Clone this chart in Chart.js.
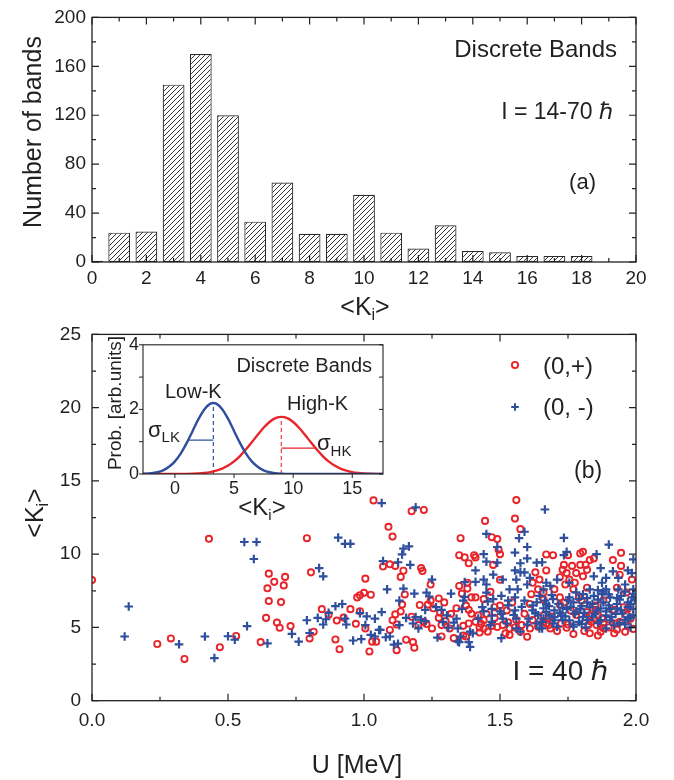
<!DOCTYPE html>
<html>
<head>
<meta charset="utf-8">
<script src="https://cdn.jsdelivr.net/npm/chart.js@4.4.0/dist/chart.umd.min.js"></script>
<style>
  html, body { margin: 0; padding: 0; background: #fff; }
  #wrap { position: relative; width: 674px; height: 780px; overflow: hidden; background: #fff; }
  canvas { position: absolute; }
</style>
</head>
<body>
<div id="wrap">
  <canvas id="hist" width="674" height="330" style="left:0;top:0"></canvas>
  <canvas id="scatter" width="674" height="468" style="left:0;top:312px"></canvas>
  <canvas id="inset" width="300" height="200" style="left:100px;top:330px"></canvas>
</div>
<script>
const INK = '#231f20';
const RED = '#e8252a';
const BLUE = '#2f4f9e';
const FONT = '"Liberation Sans", Arial, Helvetica, sans-serif';

// (a) number of discrete bands per <K_i> bin
const K_BINS = [0, 1, 2, 3, 4, 5, 6, 7, 8, 9, 10, 11, 12, 13, 14, 15, 16, 17, 18];
const BAND_COUNTS = [1, 24, 25, 145, 170, 120, 33, 65, 23, 23, 55, 24, 11, 30, 9, 8, 5, 5, 5];
const HIST_X_TICKS = [0, 2, 4, 6, 8, 10, 12, 14, 16, 18, 20];
const HIST_X_MINOR = [1, 3, 5, 7, 9, 11, 13, 15, 17, 19];
const HIST_Y_TICKS = [0, 40, 80, 120, 160, 200];
const HIST_Y_MINOR = [20, 60, 100, 140, 180];

// (b) <K_i> versus excitation energy U for the two (parity, signature) groups, [U, <K_i>]
const POS_PARITY = [
  [0.00,8.23],[0.43,11.05],[0.24,3.87],[0.29,4.25],[0.34,2.85],[0.47,3.65],[0.53,4.42],[0.62,4.00],[0.64,5.65],[0.65,8.67],
  [0.645,7.67],[0.67,8.11],[0.65,6.80],[0.71,8.45],[0.705,7.87],[0.695,6.73],[0.68,5.33],[0.69,4.98],[0.73,5.09],[0.79,11.09],
  [0.805,8.76],[0.80,4.25],[0.815,4.71],[0.845,6.25],[0.87,5.87],[0.90,5.47],[0.895,4.18],[0.91,3.51],[0.925,5.67],[0.95,6.25],
  [0.97,5.25],[0.985,6.11],[0.975,7.05],[0.985,7.20],[1.00,7.36],[1.005,8.33],[1.025,7.23],[1.005,4.93],[1.02,3.36],[1.03,4.03],
  [1.045,4.03],[1.035,13.67],
  [1.175,12.93],[1.22,13.02],[1.09,11.87],[1.105,11.20],[1.07,9.16],[1.095,9.31],[1.115,9.20],[1.145,8.87],[1.135,8.45],[1.21,9.05],
  [1.215,8.85],[1.245,7.93],[1.15,7.25],[1.14,6.56],[1.115,5.89],[1.135,6.09],[1.105,5.49],[1.095,4.83],[1.12,5.20],[1.175,5.73],
  [1.205,6.53],[1.235,6.56],[1.245,6.83],[1.275,6.98],[1.295,6.71],[1.255,6.31],[1.28,6.00],[1.34,6.31],[1.35,7.83],[1.35,9.93],
  [1.355,11.09],[1.22,5.38],[1.20,5.16],[1.23,5.23],[1.25,4.93],[1.275,5.65],[1.285,5.16],[1.30,5.43],[1.315,4.93],[1.32,5.93],
  [1.285,4.38],[1.155,4.16],[1.18,4.00],[1.185,3.62],[1.12,3.45],
  [1.56,13.69],[1.555,12.43],[1.445,12.27],[1.575,11.71],[1.47,11.16],[1.49,11.03],[1.495,10.31],[1.50,10.00],[1.37,9.78],[1.385,9.38],
  [1.405,9.93],[1.41,9.78],[1.475,9.27],[1.67,9.98],[1.67,8.89],[1.63,8.76],[1.50,8.25],[1.38,8.05],[1.36,7.31],[1.38,7.65],
  [1.465,7.43],[1.41,7.05],[1.395,7.05],[1.44,6.93],[1.375,6.49],[1.385,6.20],[1.395,5.93],[1.42,5.83],[1.45,5.93],[1.48,6.38],
  [1.48,5.65],[1.44,5.49],[1.41,5.38],[1.385,5.27],[1.365,5.11],[1.425,5.00],[1.44,4.93],[1.455,4.71],[1.425,4.65],[1.49,5.03],
  [1.51,5.16],[1.535,4.93],[1.535,4.49],[1.52,4.60],[1.555,5.00],[1.58,5.16],[1.61,4.93],[1.60,4.36],[1.575,4.71],[1.62,8.05],
  [1.645,8.27],[1.64,7.60],[1.615,7.27],[1.66,7.38],[1.61,6.60],[1.50,6.49],[1.525,6.16],[1.545,6.71],[1.59,5.93],[1.33,4.27],
  [1.365,4.45],[1.375,4.38],[1.67,5.27],[1.68,5.65],
  [1.695,9.93],[1.75,9.93],[1.795,10.05],[1.805,10.16],[1.945,10.09],[1.915,9.60],[1.735,9.27],[1.765,9.20],[1.795,9.27],[1.815,9.27],
  [1.83,9.60],[1.845,9.71],[1.73,8.93],[1.745,8.71],[1.78,8.71],[1.82,8.93],[1.945,9.20],[1.72,8.43],[1.755,8.27],[1.805,8.49],
  [1.94,8.60],[1.74,7.93],[1.775,8.05],[1.77,7.60],[1.82,7.71],[1.70,7.60],[1.72,7.05],[1.79,7.05],[1.735,6.71],[1.93,7.71],
  [1.965,7.38],[1.985,8.27],[1.955,6.38],[1.66,5.83],[1.68,5.16],[1.685,4.93],[1.82,6.05],[1.83,5.83],[1.845,5.60],[1.86,5.83],
  [1.835,5.38],[1.825,5.16],[1.855,5.16],[1.88,5.27],[1.875,5.60],[1.94,5.38],[1.965,5.83],[1.98,5.60],[1.66,5.38],[1.725,5.27],
  [1.745,4.98],[1.925,5.27],[1.97,6.27],[1.85,6.49],[1.80,6.83],
  [1.81,4.75],[1.87,4.70],[1.93,4.85],[1.99,4.90],[1.77,4.55],[1.86,4.45],[1.90,5.00],
  [1.62,5.50],[1.64,5.05],[1.69,5.75],[1.71,4.75],[1.75,5.20],[1.78,5.85],[1.83,4.60],[1.88,4.95],[1.92,4.60],[1.96,4.70],
  [1.97,5.10],[1.90,5.55],[1.85,6.20],[1.88,6.85],[1.92,6.20],[1.76,6.15],[1.72,6.55],[1.66,6.90],[1.56,5.50],[1.53,5.35],
  [1.47,5.10],[1.43,5.25]
];
const NEG_PARITY = [
  [0.12,4.38],[0.135,6.43],[0.32,3.85],[0.415,4.38],[0.45,2.91],[0.50,4.40],[0.525,4.16],[0.57,5.09],[0.56,10.83],[0.605,10.83],
  [0.595,9.67],[0.645,3.91],[0.735,4.56],[0.76,4.03],[0.79,5.49],[0.80,4.62],[0.83,5.65],[0.85,5.20],[0.86,5.56],[0.835,9.05],
  [0.85,8.49],[0.87,6.00],[0.895,6.45],[0.905,11.13],[0.93,10.71],[0.95,10.71],[0.92,6.60],[0.93,5.60],[0.935,5.20],[0.96,4.11],
  [0.99,4.20],[0.985,5.98],[1.01,5.76],[1.005,5.16],[1.04,5.60],[1.025,4.49],[1.04,4.38],[1.055,4.83],[1.065,13.49],
  [1.19,13.20],[1.165,10.53],[1.145,10.38],[1.14,9.98],[1.07,9.53],[1.125,9.45],[1.17,9.27],[1.25,8.27],[1.085,7.60],[1.145,7.65],
  [1.185,7.31],[1.23,7.38],[1.24,7.11],[1.32,7.31],[1.13,6.83],[1.225,6.20],[1.265,6.38],[1.285,6.20],[1.305,5.83],[1.065,6.05],
  [1.155,5.65],[1.19,5.71],[1.21,5.53],[1.18,5.27],[1.13,5.16],[1.06,4.83],[1.08,4.33],[1.095,4.38],[1.11,3.83],[1.125,3.89],
  [1.27,4.31],[1.31,4.98],[1.33,5.33],[1.34,5.60],[1.345,4.05],[1.20,4.93],[1.225,5.43],[1.29,5.38],
  [1.665,13.05],[1.59,11.53],[1.57,11.09],[1.45,11.38],[1.49,10.49],[1.60,10.49],[1.555,10.11],[1.44,10.00],[1.45,9.49],[1.49,9.42],
  [1.575,9.38],[1.60,9.71],[1.635,9.42],[1.655,9.45],[1.41,8.89],[1.475,8.60],[1.555,8.89],[1.575,8.76],[1.59,8.76],[1.51,8.27],
  [1.56,8.27],[1.61,8.38],[1.67,8.05],[1.37,8.09],[1.41,8.11],[1.44,8.27],[1.45,7.93],[1.60,7.93],[1.535,7.60],[1.565,7.60],
  [1.37,7.09],[1.45,7.38],[1.505,7.16],[1.555,7.05],[1.645,7.16],[1.365,6.83],[1.455,6.78],[1.475,6.93],[1.53,6.83],[1.59,6.83],
  [1.635,6.71],[1.665,6.83],[1.36,6.27],[1.435,6.38],[1.47,6.27],[1.505,5.93],[1.555,6.16],[1.62,6.16],[1.66,6.31],[1.47,5.38],
  [1.51,5.60],[1.56,5.60],[1.605,5.60],[1.64,5.83],[1.67,6.05],[1.525,5.27],[1.635,5.27],[1.345,4.93],[1.39,4.71],[1.465,5.16],
  [1.56,4.93],[1.645,4.93],[1.355,4.38],[1.40,4.60],[1.505,4.27],[1.35,4.00],[1.385,4.00],[1.39,3.67],[1.575,4.71],
  [1.735,11.11],[1.90,10.65],[1.745,10.16],[1.735,9.93],[1.855,10.00],[1.99,9.65],[1.87,9.05],[1.915,8.83],[1.97,8.89],[1.71,8.27],
  [1.845,8.49],[1.89,8.38],[1.935,8.38],[1.985,8.71],[1.685,7.83],[1.755,8.05],[1.875,8.05],[1.96,7.93],[1.66,7.60],[1.83,7.60],
  [1.89,7.60],[1.935,7.60],[1.99,7.60],[1.805,7.27],[1.845,7.16],[1.875,7.27],[1.905,7.05],[1.945,7.16],[1.985,7.05],[1.695,6.93],
  [1.755,7.05],[1.67,6.60],[1.715,6.60],[1.77,6.71],[1.82,6.71],[1.88,6.71],[1.93,6.60],[1.97,6.71],[1.70,6.16],[1.745,6.27],
  [1.795,6.27],[1.855,6.16],[1.905,6.27],[1.945,6.16],[1.99,6.27],[1.68,5.83],[1.725,5.83],[1.775,5.93],[1.805,5.71],[1.89,5.83],
  [1.925,5.93],[1.99,5.83],[1.655,5.38],[1.70,5.49],[1.755,5.49],[1.79,5.38],[1.905,5.49],[1.96,5.49],[1.655,4.93],[1.71,5.05],
  [1.77,5.05],[1.815,5.00],[1.89,4.93],[1.98,5.00],[1.695,5.27],
  [1.83,6.40],[1.86,6.90],[1.90,6.50],[1.94,6.90],[1.97,6.40],[1.99,7.30],[1.96,5.20],[1.85,5.90],[1.82,5.50],[1.88,7.45],
  [1.79,6.95],[1.76,6.40],[1.72,6.00],[1.69,7.20],[1.80,5.25],[1.92,5.15],[1.995,6.90],
  [1.74,5.75],[1.78,6.10],[1.81,6.00],[1.84,5.75],[1.87,5.50],[1.89,6.10],[1.91,5.70],[1.93,6.30],[1.95,5.95],[1.97,5.60],
  [1.98,6.60],[1.75,6.85],[1.78,7.40],[1.82,7.00],[1.86,7.55],[1.90,7.25],[1.93,7.00],[1.96,7.45],[1.87,6.30],[1.84,6.60],
  [1.80,6.45],[1.73,6.35],[1.70,5.70],[1.66,5.60],[1.63,6.00],[1.58,6.40],[1.53,6.50],[1.50,6.10],[1.47,5.80],[1.44,6.10],
  [1.42,5.60],[1.55,5.85],[1.60,5.20],[1.62,6.50],[1.68,6.45],[1.86,5.30],[1.94,5.30],[1.98,5.70],[1.77,5.20],[1.73,5.50]
];
const SC_X_TICKS = [0, 0.5, 1.0, 1.5, 2.0];
const SC_X_MINOR = [0.25, 0.75, 1.25, 1.75];
const SC_Y_TICKS = [0, 5, 10, 15, 20, 25];
const SC_Y_MINOR = [2.5, 7.5, 12.5, 17.5, 22.5];

// inset: probability profiles of the low-K and high-K groups
const LOWK_K = [-2.7,-2.5,-2,-1.5,-1,-0.5,0,0.5,1,1.5,2,2.5,3,3.25,3.5,4,4.5,5,5.5,6,6.5,7,7.5,8,8.5,9,9.5,10,11,12,13,14,15,16,17,17.6];
const LOWK_P = [0.007,0.010,0.024,0.055,0.115,0.222,0.392,0.640,0.963,1.334,1.705,2.007,2.178,2.2,2.178,2.007,1.705,1.334,0.963,0.640,
                0.392,0.222,0.115,0.055,0.024,0.010,0.004,0.001,0,0,0,0,0,0,0,0];
const HIGHK_K = [-2.7,-1,0,1,2,2.5,3,3.5,4,4.5,5,5.5,6,6.5,7,7.5,8,8.5,9,9.5,10,10.5,11,11.5,12,12.5,13,13.5,14,14.5,15,15.5,16,16.5,17,17.6];
const HIGHK_P = [0,0,0.001,0.004,0.017,0.033,0.059,0.102,0.167,0.261,0.390,0.556,0.756,0.980,1.213,1.431,1.610,1.729,1.77,1.729,
                 1.610,1.431,1.213,0.980,0.756,0.556,0.390,0.261,0.167,0.102,0.059,0.033,0.017,0.009,0.004,0.002];
const LOWK_MEAN = 3.25, LOWK_PEAK = 2.2, LOWK_SIGMA_FROM = 1.12, LOWK_SIGMA_LEVEL = 1.05;
const HIGHK_MEAN = 9.0, HIGHK_PEAK = 1.77, HIGHK_SIGMA_TO = 11.9, HIGHK_SIGMA_LEVEL = 0.8;
const INSET_X_TICKS = [0, 5, 10, 15];
const INSET_Y_TICKS = [0, 2, 4];
const INSET_Y_MINOR = [1, 3];

// ---------- helpers ----------
function makeHatch() {
  const n = 5;
  const c = document.createElement('canvas');
  c.width = n; c.height = n;
  const g = c.getContext('2d');
  g.fillStyle = '#fff'; g.fillRect(0, 0, n, n);
  g.strokeStyle = '#2a2a2a'; g.lineWidth = 0.95;
  g.beginPath();
  g.moveTo(0, n); g.lineTo(n, 0);
  g.moveTo(-1, 1); g.lineTo(1, -1);
  g.moveTo(n - 1, n + 1); g.lineTo(n + 1, n - 1);
  g.stroke();
  return g.createPattern(c, 'repeat');
}

function axis(o) {
  return {
    type: 'linear', min: o.min, max: o.max, offset: false,
    grid: { display: false, drawTicks: false }, border: { display: false },
    afterBuildTicks: s => { s.ticks = o.ticks.map(v => ({ value: v })); },
    afterFit: s => { if (o.width != null) s.width = o.width; if (o.height != null) s.height = o.height; },
    ticks: { color: INK, font: { family: FONT, size: o.size }, padding: o.pad, maxRotation: 0, minRotation: 0,
             autoSkip: false, callback: o.fmt || (v => String(v)) }
  };
}

function drawRuns(ctx, runs, x, y, align) {
  let w = 0;
  runs.forEach(r => {
    ctx.font = (r.italic ? 'italic ' : '') + r.size + 'px ' + FONT;
    r._w = ctx.measureText(r.t).width; w += r._w;
  });
  let cx = align === 'center' ? x - w / 2 : align === 'right' ? x - w : x;
  runs.forEach(r => {
    ctx.font = (r.italic ? 'italic ' : '') + r.size + 'px ' + FONT;
    ctx.textAlign = 'left';
    ctx.fillText(r.t, cx, y + (r.dy || 0));
    cx += r._w;
  });
}

// frame box with tick marks on every side
const frameTicks = {
  id: 'frameTicks',
  afterDraw(chart, args, o) {
    const { ctx, chartArea: a } = chart;
    const sx = chart.scales.x, sy = chart.scales.y;
    const s = o.outward ? -1 : 1;
    ctx.save();
    ctx.strokeStyle = INK;
    ctx.lineWidth = o.lineWidth || 1.2;
    ctx.strokeRect(a.left, a.top, a.right - a.left, a.bottom - a.top);
    ctx.lineWidth = o.tickWidth || 1.2;
    ctx.beginPath();
    const xt = (vals, len) => (vals || []).forEach(v => {
      const p = sx.getPixelForValue(v);
      ctx.moveTo(p, a.bottom); ctx.lineTo(p, a.bottom - s * len);
      if (o.mirrorX) { ctx.moveTo(p, a.top); ctx.lineTo(p, a.top + len); }
    });
    const yt = (vals, len) => (vals || []).forEach(v => {
      const p = sy.getPixelForValue(v);
      ctx.moveTo(a.left, p); ctx.lineTo(a.left + s * len, p);
      if (o.mirrorY) { ctx.moveTo(a.right, p); ctx.lineTo(a.right - len, p); }
    });
    xt(o.xMajor, o.major); xt(o.xMinor, o.minor);
    yt(o.yMajor, o.major); yt(o.yMinor, o.minor);
    ctx.stroke();
    ctx.restore();
  }
};

// titles, annotations and legend keys (page coordinates, shifted by the canvas offset)
const textLayer = {
  id: 'textLayer',
  afterDraw(chart, args, o) {
    const ctx = chart.ctx;
    const ox = o.ox || 0, oy = o.oy || 0;
    ctx.save();
    ctx.fillStyle = INK;
    ctx.textBaseline = 'alphabetic';
    (o.items || []).forEach(it => {
      ctx.save();
      ctx.translate(it.x - ox, it.y - oy);
      if (it.rotate) ctx.rotate(-Math.PI / 2);
      drawRuns(ctx, it.runs, 0, 0, it.align || 'left');
      ctx.restore();
    });
    (o.keys || []).forEach(k => {
      const x = k.x - ox, y = k.y - oy;
      ctx.beginPath();
      ctx.strokeStyle = k.color;
      ctx.lineWidth = k.width;
      if (k.style === 'circle') {
        ctx.arc(x, y, k.r, 0, Math.PI * 2);
      } else {
        ctx.moveTo(x - k.r, y); ctx.lineTo(x + k.r, y);
        ctx.moveTo(x, y - k.r); ctx.lineTo(x, y + k.r);
      }
      ctx.stroke();
    });
    ctx.restore();
  }
};

const KI = (size, sub) => [{ t: '<K', size }, { t: 'i', size: sub, dy: 5 }, { t: '>', size }];

// ---------- (a) histogram ----------
new Chart(document.getElementById('hist'), {
  type: 'bar',
  data: {
    datasets: [{
      data: K_BINS.map((k, i) => ({ x: k, y: BAND_COUNTS[i] })),
      backgroundColor: makeHatch(),
      borderColor: '#2a2a2a',
      borderWidth: 1.2,
      borderSkipped: false,
      barPercentage: 0.8,
      categoryPercentage: 1.0
    }]
  },
  options: {
    responsive: false, animation: false, events: [],
    layout: { padding: { left: 0, right: 38, top: 12, bottom: 0 } },
    plugins: {
      legend: { display: false }, tooltip: { enabled: false },
      frameTicks: { xMajor: HIST_X_TICKS, xMinor: HIST_X_MINOR, yMajor: HIST_Y_TICKS, yMinor: HIST_Y_MINOR,
                    major: 7, minor: 4, mirrorX: true, mirrorY: true, lineWidth: 1.3 },
      textLayer: {
        ox: 0, oy: 0,
        items: [
          { x: 41, y: 132, rotate: true, align: 'center', runs: [{ t: 'Number of bands', size: 25 }] },
          { x: 365, y: 315, align: 'center', runs: KI(25, 16) },
          { x: 617, y: 57, align: 'right', runs: [{ t: 'Discrete Bands', size: 24 }] },
          { x: 613, y: 119, align: 'right', runs: [{ t: 'I = 14-70 ', size: 23 }, { t: 'ℏ', size: 23 }] },
          { x: 596, y: 189, align: 'right', runs: [{ t: '(a)', size: 22 }] }
        ]
      }
    },
    scales: {
      x: axis({ min: 0, max: 20, ticks: HIST_X_TICKS, size: 19, pad: 5, height: 68 }),
      y: axis({ min: 0, max: 200, ticks: HIST_Y_TICKS, size: 19, pad: 6, width: 92 })
    }
  },
  plugins: [frameTicks, textLayer]
});

// ---------- (b) scatter ----------
new Chart(document.getElementById('scatter'), {
  type: 'scatter',
  data: {
    datasets: [
      {
        label: '(0,+)',
        data: POS_PARITY.map(([u, k]) => ({ x: u, y: k })),
        pointStyle: 'circle', pointRadius: 3.1, pointBorderWidth: 1.9,
        pointBorderColor: RED, pointBackgroundColor: 'rgba(0,0,0,0)',
        borderColor: RED, backgroundColor: 'rgba(0,0,0,0)',
        clip: 0, order: 1
      },
      {
        label: '(0, -)',
        data: NEG_PARITY.map(([u, k]) => ({ x: u, y: k })),
        pointStyle: 'cross', pointRadius: 4.3, pointBorderWidth: 2.2,
        pointBorderColor: BLUE, borderColor: BLUE,
        clip: 0, order: 0
      }
    ]
  },
  options: {
    responsive: false, animation: false, events: [],
    layout: { padding: { left: 0, right: 38, top: 13.7, bottom: 0 } },
    plugins: {
      legend: { display: false }, tooltip: { enabled: false },
      frameTicks: { xMajor: SC_X_TICKS, xMinor: SC_X_MINOR, yMajor: SC_Y_TICKS, yMinor: SC_Y_MINOR,
                    major: 7, minor: 4, mirrorX: true, mirrorY: true, lineWidth: 1.3 },
      textLayer: {
        ox: 0, oy: 312,
        items: [
          { x: 43, y: 513, rotate: true, align: 'center', runs: KI(25, 16) },
          { x: 357, y: 773, align: 'center', runs: [{ t: 'U [MeV]', size: 25 }] },
          { x: 543, y: 374, runs: [{ t: '(0,+)', size: 24 }] },
          { x: 543, y: 415, runs: [{ t: '(0, -)', size: 24 }] },
          { x: 574, y: 478, runs: [{ t: '(b)', size: 23 }] },
          { x: 608, y: 680, align: 'right', runs: [{ t: 'I = 40 ', size: 28 }, { t: 'ℏ', size: 28 }] }
        ],
        keys: [
          { x: 515, y: 365, style: 'circle', r: 3.1, width: 1.9, color: RED },
          { x: 515, y: 407, style: 'cross', r: 3.8, width: 2.0, color: BLUE }
        ]
      }
    },
    scales: {
      x: axis({ min: 0, max: 2, ticks: SC_X_TICKS, size: 19, pad: 9, height: 79.3, fmt: v => v.toFixed(1) }),
      y: axis({ min: 0, max: 25, ticks: SC_Y_TICKS, size: 19, pad: 11, width: 92 })
    }
  },
  plugins: [frameTicks, textLayer]
});

// ---------- inset: low-K / high-K profiles ----------
const pts = (xs, ys) => xs.map((x, i) => ({ x, y: ys[i] }));
new Chart(document.getElementById('inset'), {
  type: 'line',
  data: {
    datasets: [
      { data: pts(LOWK_K, LOWK_P), borderColor: BLUE, borderWidth: 2.4, pointRadius: 0, cubicInterpolationMode: 'monotone' },
      { data: pts(HIGHK_K, HIGHK_P), borderColor: RED, borderWidth: 2.4, pointRadius: 0, cubicInterpolationMode: 'monotone' },
      { data: [{ x: LOWK_MEAN, y: 0 }, { x: LOWK_MEAN, y: LOWK_PEAK }], borderColor: BLUE, borderWidth: 1.2, borderDash: [4, 3], pointRadius: 0 },
      { data: [{ x: HIGHK_MEAN, y: 0 }, { x: HIGHK_MEAN, y: HIGHK_PEAK }], borderColor: '#ef4a4e', borderWidth: 1.3, borderDash: [4, 3], pointRadius: 0 },
      { data: [{ x: LOWK_SIGMA_FROM, y: LOWK_SIGMA_LEVEL }, { x: LOWK_MEAN, y: LOWK_SIGMA_LEVEL }], borderColor: BLUE, borderWidth: 1.2, pointRadius: 0 },
      { data: [{ x: HIGHK_MEAN, y: HIGHK_SIGMA_LEVEL }, { x: HIGHK_SIGMA_TO, y: HIGHK_SIGMA_LEVEL }], borderColor: RED, borderWidth: 1.2, pointRadius: 0 }
    ]
  },
  options: {
    responsive: false, animation: false, events: [],
    layout: { padding: { left: 0, right: 17, top: 14, bottom: 0 } },
    plugins: {
      legend: { display: false }, tooltip: { enabled: false },
      frameTicks: { xMajor: INSET_X_TICKS, yMajor: INSET_Y_TICKS, yMinor: INSET_Y_MINOR,
                    major: 4, minor: 4, outward: true, mirrorY: true, lineWidth: 1.1, tickWidth: 1 },
      textLayer: {
        ox: 100, oy: 330,
        items: [
          { x: 121, y: 403, rotate: true, align: 'center', runs: [{ t: 'Prob. [arb.units]', size: 19 }] },
          { x: 262, y: 515, align: 'center', runs: KI(24, 15) },
          { x: 372, y: 372, align: 'right', runs: [{ t: 'Discrete Bands', size: 20 }] },
          { x: 165, y: 398, runs: [{ t: 'Low-K', size: 20 }] },
          { x: 287, y: 410, runs: [{ t: 'High-K', size: 20 }] },
          { x: 148, y: 437, runs: [{ t: 'σ', size: 22 }, { t: 'LK', size: 15, dy: 5 }] },
          { x: 317, y: 450, runs: [{ t: 'σ', size: 22 }, { t: 'HK', size: 15, dy: 6 }] }
        ]
      }
    },
    scales: {
      x: axis({ min: -2.7, max: 17.6, ticks: INSET_X_TICKS, size: 18, pad: 4, height: 56 }),
      y: axis({ min: 0, max: 4, ticks: INSET_Y_TICKS, size: 18, pad: 4, width: 43 })
    }
  },
  plugins: [frameTicks, textLayer]
});
</script>
</body>
</html>
